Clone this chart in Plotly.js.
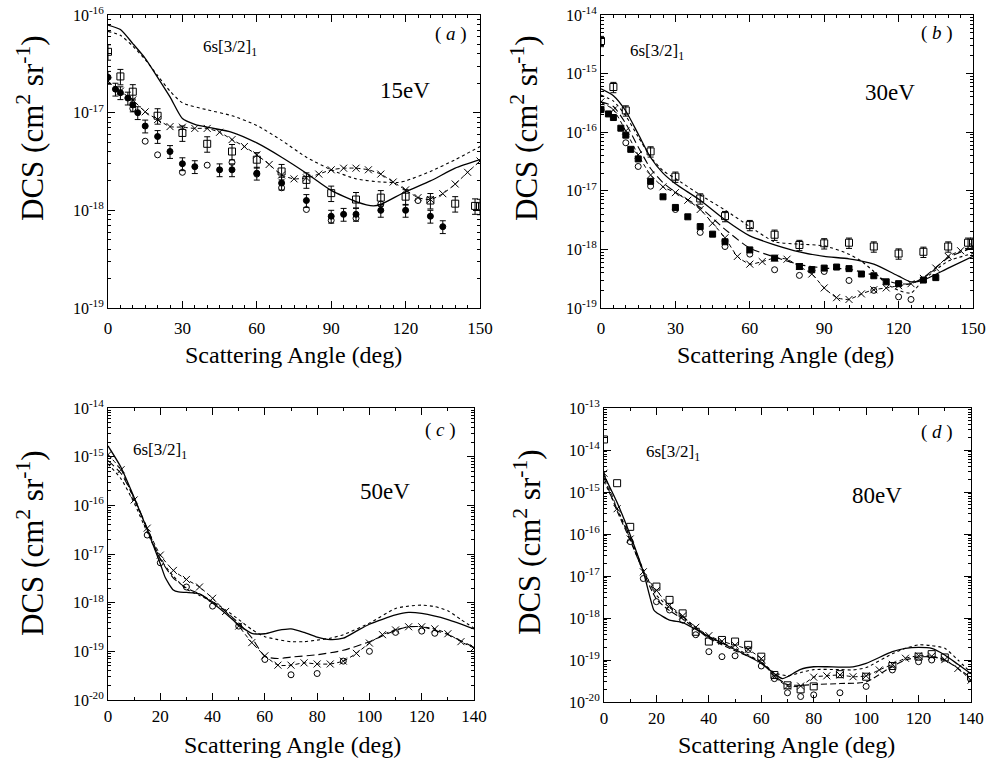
<!DOCTYPE html>
<html>
<head>
<meta charset="utf-8">
<script src="https://cdn.plot.ly/plotly-3.0.1.min.js"></script>
<style>html,body{margin:0;padding:0;background:#fff;}#chart{width:987px;height:767px;}</style>
</head>
<body>
<div id="chart"></div>
<script>
// ---------------- Panel (a) 15 eV ----------------
const solidA_x = [0,5,10,15,20,25,30,35,40,50,60,70,80,90,100,107,110,120,130,140,150];
const solidA_y = [7.9e-17,7.1e-17,5.1e-17,3.6e-17,2.3e-17,1.45e-17,8.7e-18,7.6e-18,7.1e-18,6.3e-18,4.9e-18,3.5e-18,2.4e-18,1.6e-18,1.23e-18,1.11e-18,1.15e-18,1.55e-18,2.0e-18,2.7e-18,3.3e-18];
const dotA_x = [0,5,10,15,20,25,30,40,50,60,70,80,90,100,110,117,120,130,140,150];
const dotA_y = [6.8e-17,6.2e-17,4.8e-17,3.5e-17,2.4e-17,1.66e-17,1.26e-17,1.07e-17,9.3e-18,7.4e-18,5.2e-18,3.5e-18,2.6e-18,2.1e-18,1.95e-18,1.93e-18,2.0e-18,2.5e-18,3.3e-18,4.5e-18];
const xA_x = [0,5,10,15,20,25,30,35,40,45,50,55,60,65,70,75,80,85,90,95,100,105,110,115,120,125,130,135,140,145,150];
const xA_y = [2.1e-17,1.66e-17,1.35e-17,1.02e-17,8.5e-18,7.2e-18,7.1e-18,6.9e-18,6.9e-18,6.3e-18,5.3e-18,4.5e-18,3.7e-18,2.95e-18,2.3e-18,2.1e-18,2.15e-18,2.35e-18,2.6e-18,2.7e-18,2.7e-18,2.6e-18,2.35e-18,1.95e-18,1.62e-18,1.35e-18,1.29e-18,1.48e-18,1.86e-18,2.45e-18,3.2e-18];
const sqA_x = [0,5,10,20,30,40,50,60,70,80,90,100,110,120,130,140,148,150];
const sqA_y = [4.2e-17,2.35e-17,1.64e-17,9.3e-18,6.2e-18,4.8e-18,4.0e-18,3.3e-18,2.5e-18,2.05e-18,1.5e-18,1.29e-18,1.35e-18,1.38e-18,1.26e-18,1.17e-18,1.11e-18,1.1e-18];
const fcA_x = [0,3,5,8,10,12,15,20,25,30,35,45,50,60,70,80,90,95,100,110,120,130,135];
const fcA_y = [2.3e-17,1.74e-17,1.6e-17,1.41e-17,1.2e-17,1.0e-17,7.3e-18,5.7e-18,4.0e-18,3.0e-18,2.8e-18,2.6e-18,2.6e-18,2.4e-18,1.9e-18,1.26e-18,8.7e-19,9.1e-19,9.1e-19,1.0e-18,1.0e-18,8.7e-19,6.8e-19];
const ocA_x = [10,15,20,30,40,50,60,70,80,90,100,110,125];
const ocA_y = [1.1e-17,5.1e-18,3.7e-18,2.45e-18,2.9e-18,3.1e-18,2.35e-18,1.7e-18,1.02e-18,7.9e-19,8.3e-19,1.16e-18,1.26e-18];

// ---------------- Panel (b) 30 eV ----------------
const solidB_x = [0,5,10,15,20,25,30,40,50,60,70,80,90,100,110,120,125,130,140,150];
const solidB_y = [5.5e-16,4.2e-16,2.3e-16,9.3e-17,3.7e-17,2.0e-17,1.32e-17,6.9e-18,3.2e-18,1.7e-18,1.2e-18,9.1e-19,7.6e-19,6.9e-19,5.6e-19,3.5e-19,2.8e-19,3.0e-19,4.8e-19,7.6e-19];
const dotB_x = [0,5,10,15,20,25,30,40,50,60,70,80,90,100,105,110,115,120,125,130,140,150];
const dotB_y = [4.3e-16,3.4e-16,1.9e-16,8.3e-17,3.8e-17,2.2e-17,1.62e-17,8.5e-18,4.7e-18,2.45e-18,1.35e-18,1.23e-18,1.15e-18,8.3e-19,6.3e-19,4.2e-19,2.6e-19,2.0e-19,1.8e-19,3.0e-19,6.3e-19,8.5e-19];
const ldB_x = [0,5,10,15,20,25,30,40,50,60,70,80,90,100,110,115,120,125,130,140,150];
const ldB_y = [3.3e-16,2.75e-16,1.4e-16,5.6e-17,2.4e-17,1.38e-17,9.5e-18,5.2e-18,2.2e-18,1.05e-18,7.4e-19,5.5e-19,4.8e-19,4.6e-19,3.6e-19,2.95e-19,2.6e-19,2.6e-19,3.3e-19,7.2e-19,1.07e-18];
const xB_x = [0,5,10,15,20,25,30,35,40,45,50,55,60,65,70,75,80,85,90,95,100,105,110,115,120,125,130,135,140,145,150];
const xB_y = [3.3e-16,2.4e-16,1.05e-16,4.1e-17,1.86e-17,1.17e-17,9.3e-18,6.9e-18,4.8e-18,2.8e-18,1.58e-18,7.6e-19,5.6e-19,6.2e-19,7.1e-19,6.8e-19,5.1e-19,3.8e-19,2.2e-19,1.5e-19,1.4e-19,1.74e-19,2.05e-19,2.2e-19,2.4e-19,2.6e-19,3.2e-19,4.8e-19,7.6e-19,9.5e-19,1.12e-18];
const sqB_x = [0,5,10,20,30,40,50,60,70,80,90,100,110,120,130,140,148,150];
const sqB_y = [3.6e-15,5.9e-16,2.35e-16,4.7e-17,1.74e-17,7.4e-18,3.7e-18,2.6e-18,1.78e-18,1.19e-18,1.27e-18,1.3e-18,1.12e-18,8.5e-19,9.1e-19,1.12e-18,1.3e-18,1.3e-18];
const fsB_x = [0,3,5,8,10,12,15,20,25,30,35,40,45,50,60,70,80,85,90,95,100,105,110,115,120,130,135];
const fsB_y = [2.45e-16,2.05e-16,1.78e-16,1.17e-16,8.9e-17,5.1e-17,3.5e-17,1.45e-17,7.9e-18,5.2e-18,3.6e-18,2.45e-18,1.82e-18,1.35e-18,9.8e-19,7.1e-19,5.1e-19,4.5e-19,4.8e-19,5.0e-19,4.7e-19,3.8e-19,3.55e-19,2.8e-19,2.6e-19,3.0e-19,3.3e-19];
const ocB_x = [0,10,15,20,30,40,50,60,70,80,90,100,110,120,125];
const ocB_y = [2.4e-16,6.6e-17,2.6e-17,1.2e-17,4.8e-18,1.95e-18,1.12e-18,8.3e-19,4.5e-19,3.6e-19,4.2e-19,2.95e-19,2.0e-19,1.55e-19,1.4e-19];

// ---------------- Panel (c) 50 eV ----------------
const solidC_x = [0,5,10,15,20,22,25,27,30,35,40,45,50,55,60,65,70,75,80,85,90,95,100,110,115,120,130,140];
const solidC_y = [1.66e-15,6.0e-16,1.45e-16,3.2e-17,6.3e-18,3.2e-18,1.82e-18,1.66e-18,1.62e-18,1.51e-18,9.8e-19,6.0e-19,3.5e-19,2.35e-19,2.3e-19,2.7e-19,2.9e-19,2.45e-19,1.95e-19,1.74e-19,1.86e-19,2.6e-19,3.6e-19,5.6e-19,6.3e-19,6.0e-19,4.5e-19,2.9e-19];
const dotC_x = [0,5,10,15,20,25,30,35,40,45,50,55,60,65,70,75,80,85,90,100,110,115,120,125,130,135,140];
const dotC_y = [7.1e-16,3.5e-16,1.12e-16,2.8e-17,7.9e-18,3.5e-18,1.9e-18,1.41e-18,1.05e-18,7.1e-19,4.5e-19,2.8e-19,2.0e-19,1.74e-19,1.58e-19,1.58e-19,1.7e-19,1.86e-19,2.2e-19,3.8e-19,7.6e-19,8.5e-19,8.9e-19,8.3e-19,6.8e-19,4.5e-19,3.0e-19];
const ldC_x = [0,5,10,15,20,25,30,35,40,45,50,55,60,65,70,80,90,100,110,115,120,130,140];
const ldC_y = [8.3e-16,4.5e-16,1.41e-16,3.4e-17,7.9e-18,3.2e-18,2.0e-18,1.51e-18,1.05e-18,6.6e-19,3.8e-19,1.9e-19,7.9e-20,7.1e-20,7.6e-20,8.5e-20,1.05e-19,1.58e-19,2.7e-19,3.2e-19,3.2e-19,2.2e-19,1.2e-19];
const xC_x = [0,5,10,15,20,25,30,35,40,45,50,55,60,65,70,75,80,85,90,95,100,105,110,115,120,125,130,135,140];
const xC_y = [1.1e-15,5.4e-16,1.29e-16,3.4e-17,9.5e-18,4.6e-18,3.0e-18,2.1e-18,1.23e-18,6.6e-19,3.3e-19,1.51e-19,8.1e-20,5.2e-20,5.2e-20,5.8e-20,5.5e-20,5.5e-20,6.3e-20,9.1e-20,1.48e-19,2.2e-19,2.75e-19,3.2e-19,3.2e-19,2.9e-19,2.3e-19,1.58e-19,1.17e-19];
const ocC_x = [15,20,30,40,50,60,70,80,90,100,110,120,125];
const ocC_y = [2.45e-17,6.6e-18,2.1e-18,8.5e-19,3.3e-19,6.8e-20,3.3e-20,3.5e-20,6.3e-20,1.0e-19,2.45e-19,2.6e-19,2.35e-19];

// ---------------- Panel (d) 80 eV ----------------
const solidD_x = [0,5,10,15,19,20,25,30,35,40,50,60,65,68,70,75,80,85,90,95,100,110,115,120,125,130,135,140];
const solidD_y = [2.5e-15,5.6e-16,9.5e-17,1.26e-17,1.55e-18,1.35e-18,8.9e-19,7.8e-19,5.4e-19,3.6e-19,1.78e-19,8.3e-20,4.7e-20,3.6e-20,4.0e-20,6.0e-20,6.9e-20,6.9e-20,6.8e-20,6.9e-20,8.3e-20,1.58e-19,1.9e-19,2.0e-19,1.9e-19,1.32e-19,7.9e-20,4.7e-20];
const dotD_x = [0,5,10,15,20,25,30,40,50,60,65,70,75,80,90,95,100,110,115,120,125,130,135,140];
const dotD_y = [1.78e-15,4.0e-16,8.3e-17,1.41e-17,3.5e-18,1.78e-18,1.05e-18,3.5e-19,1.9e-19,8.9e-20,5.0e-20,4.2e-20,5.0e-20,5.9e-20,5.9e-20,5.8e-20,6.6e-20,1.41e-19,1.9e-19,2.3e-19,2.2e-19,1.9e-19,1.0e-19,5.0e-20];
const ldD_x = [0,5,10,15,20,25,30,40,50,60,65,70,75,80,90,100,110,115,120,125,130,135,140];
const ldD_y = [2.2e-15,3.5e-16,7.1e-17,1.26e-17,2.8e-18,1.5e-18,9.5e-19,3.3e-19,1.66e-19,8.9e-20,4.2e-20,2.6e-20,2.5e-20,2.6e-20,2.75e-20,3.0e-20,7.1e-20,1.0e-19,1.17e-19,1.2e-19,1.0e-19,6.3e-20,3.8e-20];
const xD_x = [0,5,10,15,20,25,30,35,40,45,50,55,60,65,70,75,80,85,90,95,100,105,110,115,120,125,130,135,140];
const xD_y = [2.8e-15,4.0e-16,7.6e-17,1.26e-17,4.5e-18,2.0e-18,1.12e-18,6.0e-19,3.8e-19,2.8e-19,2.25e-19,1.78e-19,1.07e-19,4.0e-20,2.4e-20,2.4e-20,3.9e-20,4.2e-20,4.4e-20,4.0e-20,4.2e-20,5.8e-20,7.9e-20,1.1e-19,1.26e-19,1.23e-19,1.02e-19,6.3e-20,3.3e-20];
const sqD_x = [0,5,10,20,25,30,35,40,45,50,55,60,65,70,75,80,90,100,110,120,125,130,140];
const sqD_y = [1.78e-14,1.62e-15,1.48e-16,5.6e-18,2.7e-18,1.29e-18,4.7e-19,2.75e-19,3.0e-19,2.75e-19,2.3e-19,1.2e-19,4.4e-20,2.5e-20,2.0e-20,2.35e-20,4.6e-20,4.0e-20,7.2e-20,1.2e-19,1.38e-19,1.15e-19,4.0e-20];
const ocD_x = [10,15,20,25,30,35,40,45,50,55,60,65,70,75,80,90,100,110,120,125];
const ocD_y = [6.6e-17,8.7e-18,2.45e-18,1.55e-18,8.9e-19,4.0e-19,1.58e-19,1.2e-19,1.26e-19,1.78e-19,7.2e-20,3.6e-20,1.66e-20,1.35e-20,1.48e-20,1.66e-20,2.35e-20,5.8e-20,9.1e-20,1.0e-19];

// ---------------- Labels ----------------
const panelLetters = ['a','b','c','d'];
const energies = ['15eV','30eV','50eV','80eV'];
const stateLabel = '6s[3/2]<sub>1</sub>';
const xTitle = 'Scattering Angle (deg)';
const yTitle = 'DCS (cm<sup>2</sup> sr<sup>-1</sup>)';

// ---------------- Build ----------------
const SERIF = 'Liberation Serif, Times New Roman, serif';
const traces = [];
function line(ax, x, y, dash, w) {
  traces.push({x:x, y:y, xaxis:'x'+ax, yaxis:'y'+ax, type:'scatter', mode:'lines',
    line:{color:'#000', width:w||1.2, dash:dash, shape:'spline', smoothing:0.6},
    showlegend:false, hoverinfo:'skip'});
}
function xline(ax, x, y) {
  traces.push({x:x, y:y, xaxis:'x'+ax, yaxis:'y'+ax, type:'scatter', mode:'lines+markers',
    line:{color:'#000', width:1, dash:'4px,3px', shape:'spline', smoothing:0.6},
    marker:{symbol:'x-thin-open', size:7, color:'#000', line:{color:'#000', width:1}},
    showlegend:false, hoverinfo:'skip'});
}
function pts(ax, x, y, symbol, size, err) {
  const t = {x:x, y:y, xaxis:'x'+ax, yaxis:'y'+ax, type:'scatter', mode:'markers',
    marker:{symbol:symbol, size:size, color:'#000', line:{color:'#000', width:1}},
    showlegend:false, hoverinfo:'skip'};
  if (err) t.error_y = {type:'percent', value:err, color:'#000', thickness:1, width:3};
  traces.push(t);
}
// (a)
line('', solidA_x, solidA_y, 'solid', 1.3);
line('', dotA_x, dotA_y, 'dot', 1.1);
xline('', xA_x, xA_y);
pts('', sqA_x, sqA_y, 'square-open', 7, 18);
pts('', fcA_x, fcA_y, 'circle', 6, 15);
pts('', ocA_x, ocA_y, 'circle-open', 6);
// (b)
line('2', solidB_x, solidB_y, 'solid', 1.3);
line('2', dotB_x, dotB_y, 'dot', 1.1);
line('2', ldB_x, ldB_y, '8px,4px', 1.1);
xline('2', xB_x, xB_y);
pts('2', sqB_x, sqB_y, 'square-open', 7, 20);
pts('2', fsB_x, fsB_y, 'square', 6);
pts('2', ocB_x, ocB_y, 'circle-open', 6);
// (c)
line('3', solidC_x, solidC_y, 'solid', 1.3);
line('3', dotC_x, dotC_y, 'dot', 1.1);
line('3', ldC_x, ldC_y, '8px,4px', 1.1);
xline('3', xC_x, xC_y);
pts('3', ocC_x, ocC_y, 'circle-open', 6);
// (d)
line('4', solidD_x, solidD_y, 'solid', 1.3);
line('4', dotD_x, dotD_y, 'dot', 1.1);
line('4', ldD_x, ldD_y, '6px,3px', 1.1);
xline('4', xD_x, xD_y);
pts('4', sqD_x, sqD_y, 'square-open', 7);
pts('4', ocD_x, ocD_y, 'circle-open', 6);

const W = 987, H = 767;
// plot boxes in pixels [left, right, top, bottom]
const boxes = [[108,480,15,308],[601,973,15,308],[108,474,408,700],[604,971,408,702]];
const xr = [[0,150],[0,150],[0,140],[0,140]];
const xdt = [30,30,20,20];
const xminor = [5,5,10,10];
const yr = [[-19,-16],[-19,-14],[-20,-14],[-20,-13]];
const xLabelGap = [5,5,1,1];

function decadeTicks(lo, hi) {
  const v = [], t = [];
  for (let e = lo; e <= hi; e++) { v.push(Math.pow(10, e)); t.push('10<sup>' + e + '</sup>'); }
  return [v, t];
}
function minorTicks(lo, hi) {
  const v = [];
  for (let e = lo; e < hi; e++) for (let m = 2; m <= 9; m++) v.push(m * Math.pow(10, e));
  return v;
}

const layout = {width:W, height:H, margin:{l:0,r:0,t:0,b:0}, paper_bgcolor:'#fff', plot_bgcolor:'#fff',
  font:{family:SERIF, color:'#000'}, showlegend:false, annotations:[]};

boxes.forEach((b, i) => {
  const s = i === 0 ? '' : String(i + 1);
  const [tv, tt] = decadeTicks(yr[i][0], yr[i][1]);
  layout['xaxis' + s] = {
    domain:[b[0]/W, b[1]/W], anchor:'y' + s, range:xr[i], tickmode:'linear', tick0:0, dtick:xdt[i],
    ticks:'inside', ticklen:7, tickwidth:1, tickcolor:'#000', showline:true, linecolor:'#000', linewidth:1,
    mirror:'ticks', showgrid:false, zeroline:false, tickfont:{family:SERIF, size:17}, ticklabelstandoff:xLabelGap[i],
    minor:{ticks:'inside', ticklen:3, dtick:xminor[i], tick0:0, tickcolor:'#000', showgrid:false}
  };
  layout['yaxis' + s] = {
    domain:[1 - b[3]/H, 1 - b[2]/H], anchor:'x' + s, type:'log', range:yr[i],
    tickmode:'array', tickvals:tv, ticktext:tt,
    ticks:'inside', ticklen:7, tickwidth:1, tickcolor:'#000', showline:true, linecolor:'#000', linewidth:1,
    mirror:'ticks', showgrid:false, zeroline:false, tickfont:{family:SERIF, size:16},
    minor:{ticks:'inside', ticklen:3, tickvals:minorTicks(yr[i][0], yr[i][1]), tickcolor:'#000', showgrid:false}
  };
});

// annotations in pixel positions
const xtPos = [[293,355],[785,355],[292,745],[786,745]];
const ytPos = [[30,128],[524,128],[30,543],[527,542]];
const stPos = [[230,48],[657,52],[160,451],[673,453]];
const ltPos = [[451,34],[937,33],[440,430],[937,432]];
const enPos = [[405,90],[890,93],[385,491],[877,495]];
for (let i = 0; i < 4; i++) {
  layout.annotations.push({xref:'paper', yref:'paper', x:xtPos[i][0]/W, y:1 - xtPos[i][1]/H,
    text:xTitle, showarrow:false, font:{family:SERIF, size:24}, xanchor:'center', yanchor:'middle'});
  layout.annotations.push({xref:'paper', yref:'paper', x:ytPos[i][0]/W, y:1 - ytPos[i][1]/H,
    text:yTitle, textangle:-90, showarrow:false, font:{family:SERIF, size:31}, xanchor:'center', yanchor:'middle'});
  layout.annotations.push({xref:'paper', yref:'paper', x:stPos[i][0]/W, y:1 - stPos[i][1]/H,
    text:stateLabel, showarrow:false, font:{family:SERIF, size:17}, xanchor:'center', yanchor:'middle'});
  layout.annotations.push({xref:'paper', yref:'paper', x:ltPos[i][0]/W, y:1 - ltPos[i][1]/H,
    text:'( <i>' + panelLetters[i] + '</i> )', showarrow:false, font:{family:SERIF, size:19}, xanchor:'center', yanchor:'middle'});
  layout.annotations.push({xref:'paper', yref:'paper', x:enPos[i][0]/W, y:1 - enPos[i][1]/H,
    text:energies[i], showarrow:false, font:{family:SERIF, size:23}, xanchor:'center', yanchor:'middle'});
}

Plotly.newPlot('chart', traces, layout, {staticPlot:true, displayModeBar:false});
</script>
</body>
</html>
